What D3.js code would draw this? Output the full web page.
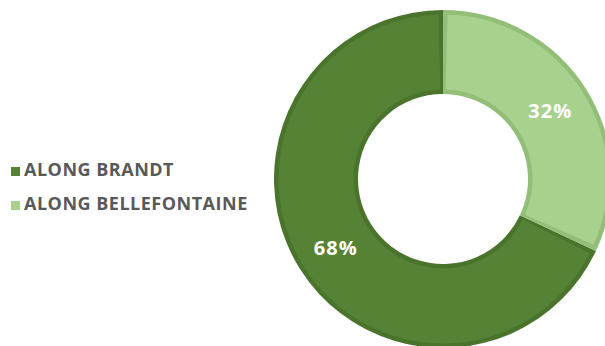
<!DOCTYPE html>
<html lang="en">
  <head>
    <meta charset="UTF-8" />
    <title>Along Brandt vs Along Bellefontaine</title>
    <script src="https://d3js.org/d3.v7.min.js"></script>
    <style>
      body {
        margin: 0;
        background: #fff;
      }
      .legend text {
        font-family: "Open Sans", sans-serif;
        font-weight: 700;
        font-size: 18px;
        letter-spacing: 0.5px;
        fill: #595959;
      }
      .label {
        font-family: "Open Sans", sans-serif;
        font-weight: 700;
        font-size: 20px;
        letter-spacing: 1px;
        fill: #fff;
        text-anchor: middle;
        dominant-baseline: central;
      }
    </style>
  </head>
  <body>
    <svg id="canvas" width="605" height="346"></svg>

    <script>
      // data
      const categories = ["ALONG BRANDT", "ALONG BELLEFONTAINE"];
      const values = [68, 32];
      const fills = ["#568235", "#a9d18e"];
      const edges = ["#4a742c", "#93be77"];

      const svg = d3.select("#canvas");

      const cx = 443,
        cy = 179,
        outerR = 169,
        innerR = 85;

      // light slice starts at 12 o'clock and runs clockwise
      const pie = d3
        .pie()
        .sort(null)
        .startAngle(2 * Math.PI * (values[1] / 100))
        .endAngle(2 * Math.PI * (1 + values[1] / 100));

      const arcs = pie(values);
      const arc = d3.arc().innerRadius(innerR).outerRadius(outerR);
      // inner border band, drawn inside each slice
      const bw = 4.5;
      const inset = d3
        .arc()
        .innerRadius(innerR + bw)
        .outerRadius(outerR - bw);

      const g = svg.append("g").attr("transform", `translate(${cx},${cy})`);

      g.selectAll("path.slice")
        .data(arcs)
        .enter()
        .append("path")
        .attr("class", "slice")
        .attr("d", arc)
        .attr("fill", (d, i) => edges[i]);

      // inner fill, shrunk in angle so the edge color shows along the radial sides
      g.selectAll("path.inner")
        .data(arcs)
        .enter()
        .append("path")
        .attr("class", "inner")
        .attr("d", (d) => {
          const pad = bw / ((innerR + outerR) / 2);
          return inset({
            startAngle: d.startAngle + pad * 0.8,
            endAngle: d.endAngle - pad * 0.8,
          });
        })
        .attr("fill", (d, i) => fills[i]);

      g.selectAll("text.label")
        .data(arcs)
        .enter()
        .append("text")
        .attr("class", "label")
        .attr("x", (d) => arc.centroid(d)[0])
        .attr("y", (d) => arc.centroid(d)[1])
        .text((d) => d.data + "%");

      // legend
      const ly = d3.scaleBand().domain(categories).range([150, 218]);
      const legend = svg
        .append("g")
        .attr("class", "legend")
        .selectAll("g")
        .data(categories)
        .enter()
        .append("g")
        .attr("transform", (d) => `translate(0,${ly(d) + ly.bandwidth() / 2})`);

      legend
        .append("rect")
        .attr("x", 11)
        .attr("y", 0)
        .attr("width", 9)
        .attr("height", 9)
        .attr("fill", (d, i) => fills[i]);

      legend
        .append("text")
        .attr("x", 24)
        .attr("y", 9)
        .text((d) => d);
    </script>
  </body>
</html>
